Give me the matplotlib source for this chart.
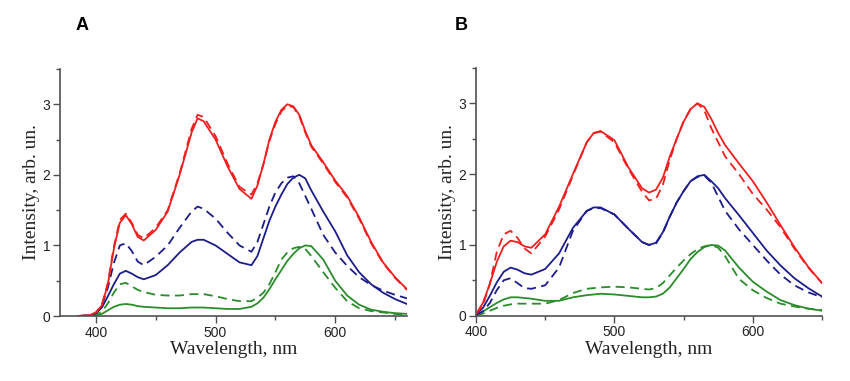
import matplotlib
matplotlib.use("Agg")
import matplotlib.pyplot as plt
from matplotlib.ticker import MultipleLocator

# ---------------- data ----------------
wl_a = [385, 395, 400, 405, 410, 415, 420, 425, 430, 435, 440, 450, 460, 470, 480, 485, 490,
        500, 510, 520, 530, 535, 540, 545, 550, 555, 560, 565, 570, 575, 580, 590, 600, 610,
        620, 630, 640, 650, 660]
red_solid_a = [0.00, 0.01, 0.05, 0.15, 0.45, 0.95, 1.32, 1.43, 1.30, 1.12, 1.07, 1.22, 1.48, 2.00,
               2.60, 2.80, 2.76, 2.50, 2.12, 1.80, 1.66, 1.85, 2.15, 2.50, 2.75, 2.92, 3.00, 2.97,
               2.85, 2.62, 2.42, 2.18, 1.92, 1.70, 1.40, 1.05, 0.76, 0.55, 0.38]
red_dash_a = [0.00, 0.01, 0.05, 0.16, 0.47, 0.98, 1.36, 1.45, 1.32, 1.15, 1.10, 1.25, 1.50, 2.02,
              2.65, 2.85, 2.82, 2.55, 2.16, 1.83, 1.72, 1.88, 2.15, 2.48, 2.72, 2.90, 2.98, 2.96,
              2.83, 2.60, 2.40, 2.16, 1.90, 1.68, 1.38, 1.03, 0.75, 0.54, 0.37]
blue_solid_a = [0.00, 0.01, 0.04, 0.12, 0.28, 0.45, 0.60, 0.64, 0.60, 0.55, 0.52, 0.58, 0.72, 0.90,
                1.05, 1.08, 1.08, 1.00, 0.88, 0.76, 0.72, 0.85, 1.10, 1.35, 1.55, 1.72, 1.87, 1.96,
                2.00, 1.95, 1.78, 1.48, 1.20, 0.86, 0.62, 0.45, 0.33, 0.24, 0.17]
blue_dash_a = [0.00, 0.01, 0.04, 0.15, 0.40, 0.75, 1.00, 1.03, 0.92, 0.77, 0.72, 0.84, 1.00, 1.25,
               1.48, 1.55, 1.52, 1.38, 1.18, 1.00, 0.91, 1.05, 1.30, 1.55, 1.75, 1.88, 1.96, 1.98,
               1.88, 1.70, 1.52, 1.15, 0.90, 0.71, 0.55, 0.44, 0.36, 0.30, 0.25]
green_solid_a = [0.00, 0.00, 0.01, 0.03, 0.08, 0.13, 0.16, 0.17, 0.16, 0.14, 0.13, 0.12, 0.11, 0.11,
                 0.12, 0.12, 0.12, 0.11, 0.10, 0.10, 0.13, 0.18, 0.26, 0.38, 0.52, 0.65, 0.78, 0.88,
                 0.96, 1.00, 0.99, 0.80, 0.50, 0.29, 0.16, 0.09, 0.06, 0.04, 0.03]
green_dash_a = [0.00, 0.00, 0.02, 0.06, 0.18, 0.33, 0.45, 0.47, 0.42, 0.37, 0.34, 0.30, 0.29, 0.29,
                0.31, 0.31, 0.31, 0.28, 0.24, 0.21, 0.21, 0.26, 0.33, 0.45, 0.62, 0.80, 0.90, 0.96,
                0.98, 0.95, 0.85, 0.62, 0.40, 0.21, 0.11, 0.07, 0.05, 0.03, 0.02]

wl_b = [400, 405, 410, 415, 420, 425, 430, 435, 440, 450, 460, 470, 480, 485, 490, 500, 510, 520,
        525, 530, 535, 540, 545, 550, 555, 560, 565, 570, 575, 580, 590, 600, 610, 620, 630, 640, 650]
red_solid_b = [0.02, 0.18, 0.45, 0.76, 0.98, 1.06, 1.04, 0.98, 0.96, 1.15, 1.54, 2.00, 2.45, 2.58,
               2.61, 2.48, 2.10, 1.80, 1.74, 1.78, 1.95, 2.25, 2.50, 2.74, 2.92, 3.00, 2.95, 2.78,
               2.58, 2.41, 2.15, 1.90, 1.60, 1.28, 0.97, 0.69, 0.46]
red_dash_b = [0.02, 0.15, 0.45, 0.90, 1.15, 1.20, 1.10, 0.95, 0.88, 1.12, 1.50, 1.98, 2.45, 2.58,
              2.60, 2.45, 2.08, 1.75, 1.63, 1.65, 1.85, 2.20, 2.50, 2.75, 2.92, 3.00, 2.90, 2.65,
              2.45, 2.25, 2.00, 1.72, 1.50, 1.25, 0.95, 0.68, 0.46]
blue_solid_b = [0.02, 0.11, 0.28, 0.47, 0.62, 0.68, 0.65, 0.60, 0.58, 0.66, 0.88, 1.24, 1.48, 1.53,
                1.53, 1.43, 1.23, 1.04, 1.00, 1.03, 1.18, 1.40, 1.60, 1.76, 1.90, 1.97, 1.99, 1.90,
                1.80, 1.66, 1.42, 1.17, 0.92, 0.71, 0.53, 0.39, 0.27]
blue_dash_b = [0.01, 0.06, 0.18, 0.36, 0.50, 0.53, 0.46, 0.39, 0.38, 0.43, 0.68, 1.20, 1.48, 1.52,
               1.52, 1.43, 1.23, 1.04, 1.00, 1.02, 1.17, 1.40, 1.60, 1.76, 1.90, 1.96, 1.98, 1.88,
               1.68, 1.48, 1.22, 1.00, 0.78, 0.58, 0.43, 0.33, 0.26]
green_solid_b = [0.01, 0.06, 0.12, 0.18, 0.23, 0.26, 0.26, 0.25, 0.24, 0.21, 0.21, 0.26, 0.29, 0.30,
                 0.31, 0.30, 0.28, 0.26, 0.26, 0.27, 0.31, 0.40, 0.53, 0.66, 0.80, 0.90, 0.97, 1.00,
                 0.99, 0.92, 0.68, 0.48, 0.34, 0.22, 0.15, 0.10, 0.07]
green_dash_b = [0.00, 0.03, 0.07, 0.11, 0.14, 0.16, 0.17, 0.17, 0.17, 0.17, 0.22, 0.32, 0.38, 0.39,
                0.40, 0.41, 0.40, 0.38, 0.37, 0.39, 0.46, 0.57, 0.68, 0.78, 0.87, 0.94, 0.98, 1.00,
                0.96, 0.84, 0.52, 0.36, 0.25, 0.17, 0.13, 0.10, 0.08]

panel_labels = ["A", "B"]
x_label = "Wavelength, nm"
y_label = "Intensity, arb. un."

# ---------------- styling ----------------
RED = "#f01e1e"
BLUE = "#1c1c8a"
GREEN = "#2a8c2a"
AXC = "#505050"
DASH = (0, (5, 3))

fig = plt.figure(figsize=(8.5, 3.81), dpi=100)
axA = fig.add_axes([0.0706, 0.1706, 0.4082, 0.6484])
axB = fig.add_axes([0.5600, 0.1714, 0.4071, 0.6501])

panels = [
    (axA, wl_a, [red_solid_a, red_dash_a, blue_solid_a, blue_dash_a, green_solid_a, green_dash_a], (370, 660)),
    (axB, wl_b, [red_solid_b, red_dash_b, blue_solid_b, blue_dash_b, green_solid_b, green_dash_b], (400, 650)),
]

for ax, wl, series, xl in panels:
    rs, rd, bs, bd, gs, gd = series
    ax.plot(wl, gd, color=GREEN, lw=1.3, ls=DASH)
    ax.plot(wl, gs, color=GREEN, lw=1.3)
    ax.plot(wl, bd, color=BLUE, lw=1.3, ls=DASH)
    ax.plot(wl, bs, color=BLUE, lw=1.3)
    ax.plot(wl, rd, color=RED, lw=1.3, ls=DASH)
    ax.plot(wl, rs, color=RED, lw=1.3)
    ax.set_xlim(*xl)
    ax.set_ylim(0, 3.5)
    ax.xaxis.set_major_locator(MultipleLocator(100))
    ax.xaxis.set_minor_locator(MultipleLocator(50))
    ax.yaxis.set_major_locator(MultipleLocator(1))
    ax.yaxis.set_minor_locator(MultipleLocator(0.5))
    for s in ["top", "right"]:
        ax.spines[s].set_visible(False)
    for s in ["left", "bottom"]:
        ax.spines[s].set_color(AXC)
        ax.spines[s].set_linewidth(1.2)
    ax.tick_params(axis="both", which="major", direction="out", length=5, width=1.0,
                   colors=AXC, labelcolor="#222222", labelsize=10, pad=2)
    ax.tick_params(axis="both", which="minor", direction="out", length=3, width=1.0, colors=AXC)
    for lab in ax.get_xticklabels() + ax.get_yticklabels():
        lab.set_family("Liberation Sans")
    ax.set_xlabel(x_label, family="Liberation Serif", fontsize=14, color="#222222", labelpad=1)
    ax.set_ylabel(y_label, family="Liberation Serif", fontsize=14, color="#222222")
    ax.yaxis.set_label_coords(-0.057, 0.5)

fig.text(82 / 850, 1 - 25 / 381, panel_labels[0], family="Liberation Sans", weight="bold",
         fontsize=13, ha="center", va="center")
fig.text(461 / 850, 1 - 25 / 381, panel_labels[1], family="Liberation Sans", weight="bold",
         fontsize=13, ha="center", va="center")

fig.savefig("out.png", dpi=100)
